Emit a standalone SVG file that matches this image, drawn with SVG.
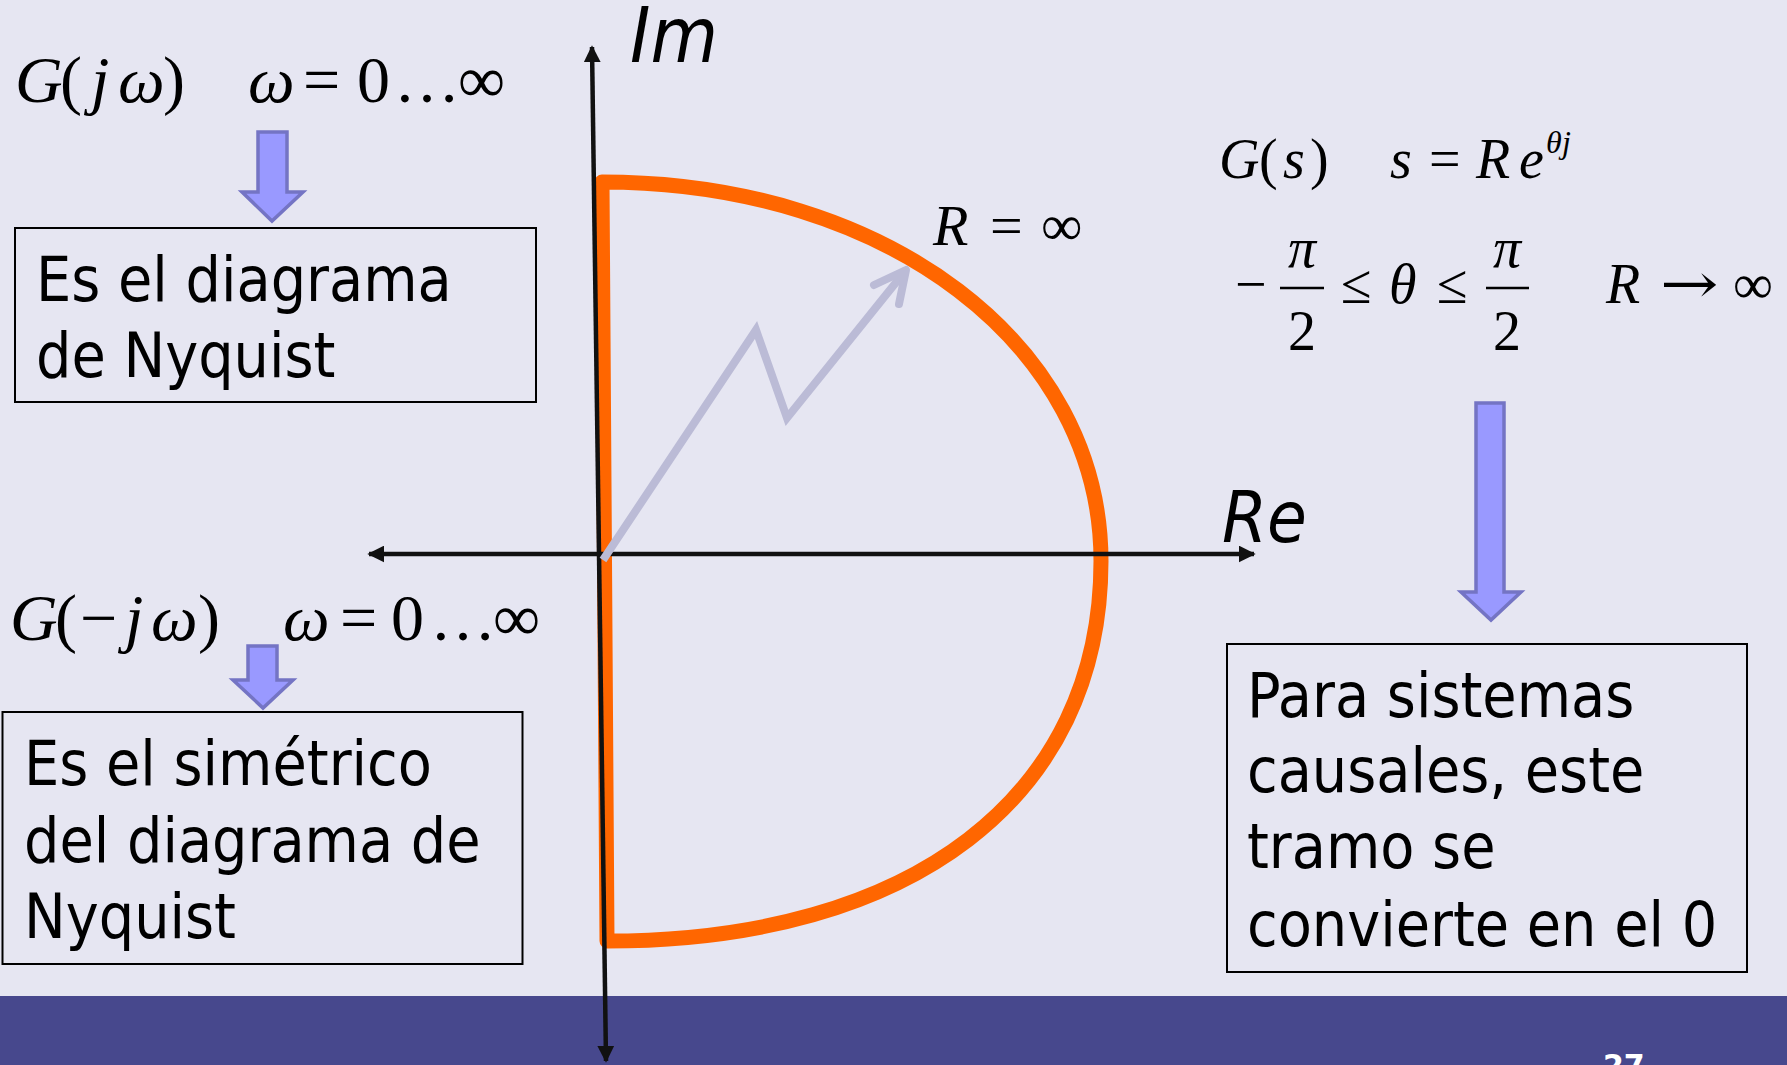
<svg xmlns="http://www.w3.org/2000/svg" width="1787" height="1065" viewBox="0 0 1787 1065">
<style>
.m{font-family:"Liberation Serif","Times New Roman",serif;fill:#000}
.i{font-style:italic}
.t{font-family:"DejaVu Sans Condensed","Liberation Sans",sans-serif;font-size:62px;fill:#000}
.ax{font-family:"DejaVu Sans Condensed","Liberation Sans",sans-serif;font-style:italic;fill:#000}
.box{fill:none;stroke:#000;stroke-width:2}
.blk{fill:#9999FF;stroke:#7474C4;stroke-width:3.5}
.axis{stroke:#111;stroke-width:4.5;fill:none}
</style>
<defs>
<marker id="ah" viewBox="0 0 10 10" refX="9" refY="5" markerWidth="17" markerHeight="17" markerUnits="userSpaceOnUse" orient="auto-start-reverse">
<path d="M0,0 L10,5 L0,10 Z" fill="#111"/>
</marker>
</defs>
<rect x="0" y="0" width="1787" height="1065" fill="#E6E6F2"/>
<rect x="0" y="996" width="1787" height="69" fill="#47488D"/>
<text x="1603" y="1076" font-family="DejaVu Sans, Liberation Sans, sans-serif" font-weight="bold" font-size="30" fill="#fff">27</text>

<g id="contour">
<path d="M607 941 L602 182 C887 182 1101 345 1101 561 C1101 797 912 941 607 941 Z" fill="none" stroke="#FF6600" stroke-width="15" stroke-linejoin="round"/>
</g>

<g id="axes">
<line class="axis" x1="606" y1="1061" x2="592" y2="47" marker-start="url(#ah)" marker-end="url(#ah)"/>
<line class="axis" x1="369" y1="554" x2="1254" y2="554" marker-start="url(#ah)" marker-end="url(#ah)"/>
<text class="ax" font-size="77" x="630" y="62">Im</text>
<text class="ax" font-size="72" x="1222" y="542">Re</text>
</g>

<g id="radius-arrow">
<polyline points="603,560 756,330 787,418 906,270" fill="none" stroke="#BBBBD6" stroke-width="8"/>
<polyline points="874,285 906,270 899,304" fill="none" stroke="#BBBBD6" stroke-width="8" stroke-linecap="round" stroke-linejoin="round"/>
<text class="m" font-size="58" y="245"><tspan class="i" x="933">R</tspan><tspan x="990">=</tspan><tspan x="1041">∞</tspan></text>
</g>

<g id="formula-positive">
<text class="m" font-size="66" y="102"><tspan class="i" x="15">G</tspan><tspan x="60">(</tspan><tspan class="i" x="91">j</tspan><tspan class="i" x="118">ω</tspan><tspan x="163">)</tspan><tspan class="i" x="248">ω</tspan><tspan x="303">=</tspan><tspan x="357">0</tspan><tspan x="394">…</tspan><tspan x="458">∞</tspan></text>
</g>

<g id="box-nyquist">
<rect class="box" x="15" y="228" width="521" height="174"/>
<text class="t" x="36" y="301">Es el diagrama</text>
<text class="t" x="36" y="377">de Nyquist</text>
</g>

<g id="formula-negative">
<text class="m" font-size="66" y="640"><tspan class="i" x="10">G</tspan><tspan x="55">(</tspan><tspan x="80">−</tspan><tspan class="i" x="125">j</tspan><tspan class="i" x="151">ω</tspan><tspan x="198">)</tspan><tspan class="i" x="283">ω</tspan><tspan x="340">=</tspan><tspan x="391">0</tspan><tspan x="430">…</tspan><tspan x="493">∞</tspan></text>
</g>

<g id="box-simetrico">
<rect class="box" x="2.5" y="712" width="520" height="252"/>
<text class="t" x="24" y="785">Es el simétrico</text>
<text class="t" x="24" y="862">del diagrama de</text>
<text class="t" x="24" y="938">Nyquist</text>
</g>

<g id="formula-s">
<text class="m" font-size="56" y="178"><tspan class="i" x="1219">G</tspan><tspan x="1259">(</tspan><tspan class="i" x="1283">s</tspan><tspan x="1310">)</tspan><tspan class="i" x="1390">s</tspan><tspan x="1429">=</tspan><tspan class="i" x="1476">R</tspan><tspan class="i" x="1519">e</tspan></text>
<text class="m i" font-size="32" y="153"><tspan x="1546">θ</tspan><tspan x="1562">j</tspan></text>
</g>

<g id="formula-theta">
<text class="m" font-size="56" x="1235" y="303">−</text>
<text class="m i" font-size="56" x="1302" y="267" text-anchor="middle">π</text>
<line x1="1280" y1="288" x2="1324" y2="288" stroke="#000" stroke-width="2.5"/>
<text class="m" font-size="56" x="1302" y="350" text-anchor="middle">2</text>
<text class="m" font-size="56" x="1341" y="303">≤</text>
<text class="m i" font-size="56" x="1389" y="303">θ</text>
<text class="m" font-size="56" x="1437" y="303">≤</text>
<text class="m i" font-size="56" x="1507" y="267" text-anchor="middle">π</text>
<line x1="1486" y1="288" x2="1529" y2="288" stroke="#000" stroke-width="2.5"/>
<text class="m" font-size="56" x="1507" y="350" text-anchor="middle">2</text>
<text class="m i" font-size="56" x="1606" y="303">R</text>
<text font-family="DejaVu Serif, serif" font-size="56" transform="translate(1660 303) scale(1.25 1)">→</text>
<text class="m" font-size="56" x="1733" y="303">∞</text>
</g>

<g id="box-causales">
<rect class="box" x="1227" y="644" width="520" height="328"/>
<text class="t" x="1247" y="717">Para sistemas</text>
<text class="t" x="1247" y="792">causales, este</text>
<text class="t" x="1247" y="868">tramo se</text>
<text class="t" x="1247" y="946">convierte en el 0</text>
</g>

<g id="connectors">
<polygon class="blk" points="258,132 287,132 287,192 303,192 272,221 242,192 258,192"/>
<polygon class="blk" points="248,646 277,646 277,680 293,680 263,708 233,680 248,680"/>
<polygon class="blk" points="1476,403 1504,403 1504,592 1521,592 1491,620 1461,592 1476,592"/>
</g>
</svg>
